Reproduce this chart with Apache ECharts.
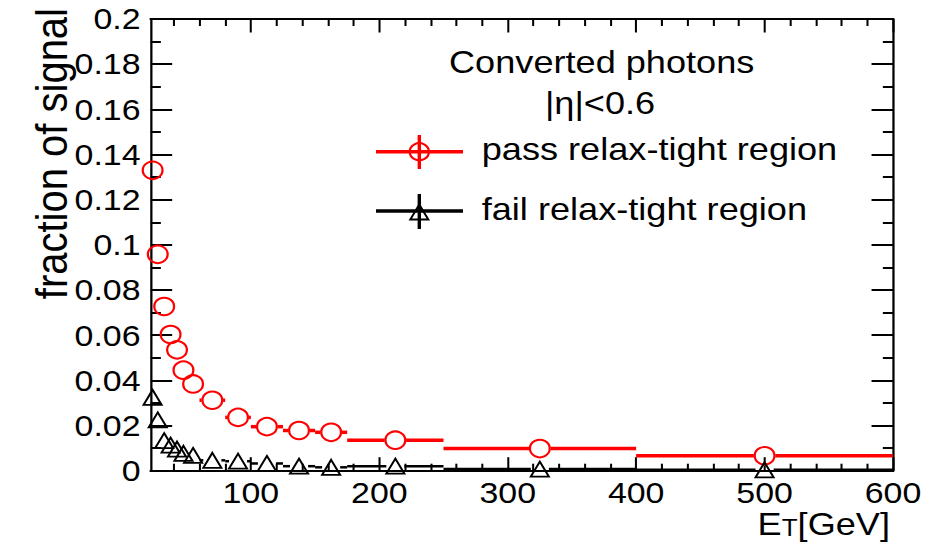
<!DOCTYPE html>
<html><head><meta charset="utf-8">
<script src="https://cdn.jsdelivr.net/npm/echarts@6/dist/echarts.min.js"></script>
<style>
html,body{margin:0;padding:0;background:#fff;overflow:hidden}
#wrap{width:933px;height:544px;overflow:hidden;background:#fff}
#c{width:826px;height:544px;transform:scaleX(1.12954);transform-origin:0 0}
</style>
</head><body><div id="wrap"><div id="c"></div></div>
<script>
// ---- data ----
const binLow   = [22, 25, 30, 35, 40, 45, 50, 60, 80, 100, 125, 150, 175, 250, 400];
const binHigh  = [25, 30, 35, 40, 45, 50, 60, 80, 100, 125, 150, 175, 250, 400, 600];
const etCenter = [23.5, 27.5, 32.5, 37.5, 42.5, 47.5, 55, 70, 90, 112.5, 137.5, 162.5, 212.5, 325, 500];
const passFrac = [0.133, 0.0958, 0.0727, 0.0603, 0.0535, 0.0445, 0.0384, 0.0312, 0.0236, 0.0195, 0.0178, 0.0170, 0.0135, 0.0098, 0.0066];
const failFrac = [0.0325, 0.0225, 0.0133, 0.0113, 0.0096, 0.0077, 0.0068, 0.0046, 0.0042, 0.0032, 0.0020, 0.0015, 0.0020, 0.0007, 0.0004];
const xMajorTicks = [100, 200, 300, 400, 500, 600];
const xMinorTicks = [40, 60, 80, 120, 140, 160, 180, 220, 240, 260, 280, 320, 340, 360, 380, 420, 440, 460, 480, 520, 540, 560, 580];
const xMin = 22, xMax = 600;
const yMin = 0, yMax = 0.2, yStep = 0.02;
const legendTitle = ['Converted photons', '|η|<0.6'];
const legendNames = ['pass relax-tight region', 'fail relax-tight region'];

const SX = 933 / 826;
const FONT = "'Liberation Sans', Arial, Helvetica, sans-serif";
const RED = '#ff0000', BLACK = '#000000';

function xAxisDef(pos, values, len, withLabels) {
  return {
    type: 'value', min: xMin, max: xMax, position: pos,
    axisLine: { show: true, onZero: false, lineStyle: { color: BLACK, width: 2 } },
    axisTick: { show: true, inside: true, length: len, customValues: values, lineStyle: { color: BLACK, width: 1.8 } },
    axisLabel: withLabels ? { show: true, customValues: values, fontSize: 30, lineHeight: 28, color: BLACK, fontFamily: FONT, margin: 8 } : { show: false },
    splitLine: { show: false }
  };
}
function yAxisDef(pos, withLabels) {
  return {
    type: 'value', min: yMin, max: yMax, interval: yStep, position: pos,
    axisLine: { show: true, onZero: false, lineStyle: { color: BLACK, width: 2 } },
    axisTick: { show: true, inside: true, length: 19, lineStyle: { color: BLACK, width: 2 } },
    minorTick: { show: true, splitNumber: 2, length: 9, lineStyle: { color: BLACK, width: 2 } },
    axisLabel: withLabels ? { show: true, fontSize: 30, color: BLACK, fontFamily: FONT, margin: 9 } : { show: false },
    splitLine: { show: false }, minorSplitLine: { show: false }
  };
}

function barRenderer(color, width, gap) {
  return function (params, api) {
    const y = api.value(2);
    const lo = api.coord([api.value(0), y]);
    const hi = api.coord([api.value(1), y]);
    const c = api.coord([api.value(3), y]);
    const children = [];
    const st = { stroke: color, lineWidth: width };
    if (c[0] - gap > lo[0]) children.push({ type: 'line', shape: { x1: lo[0], y1: lo[1], x2: c[0] - gap, y2: c[1] }, style: st });
    if (hi[0] > c[0] + gap) children.push({ type: 'line', shape: { x1: c[0] + gap, y1: c[1], x2: hi[0], y2: hi[1] }, style: st });
    return { type: 'group', children };
  };
}

const passBars = etCenter.map((c, i) => [binLow[i], binHigh[i], passFrac[i], c]);
const failBars = etCenter.map((c, i) => [binLow[i], binHigh[i], failFrac[i], c]);
const passPts = etCenter.map((c, i) => [c, passFrac[i]]);
const failPts = etCenter.map((c, i) => [c, failFrac[i]]);

const lx1 = 376 / SX, lx2 = 463 / SX, lmx = 419.3 / SX, ltx = 481.7 / SX;
function tri(cx, cy, w, h) { return [[cx, cy - h / 2], [cx + w / 2, cy + h / 2], [cx - w / 2, cy + h / 2]]; }

const chart = echarts.init(document.getElementById('c'), null, { renderer: 'svg' });
chart.setOption({
  backgroundColor: '#fff',
  animation: false,
  grid: { left: 150.7 / SX, right: 826 - 893 / SX, top: 19, bottom: 544 - 470.7, containLabel: false, outerBoundsMode: 'none' },
  xAxis: [
    xAxisDef('bottom', xMajorTicks, 13.5, true),
    xAxisDef('bottom', xMinorTicks, 7, false),
    xAxisDef('top', xMajorTicks, 13.5, false),
    xAxisDef('top', xMinorTicks, 7, false)
  ],
  yAxis: [yAxisDef('left', true), yAxisDef('right', false)],
  series: [
    { type: 'custom', xAxisIndex: 0, yAxisIndex: 0, renderItem: barRenderer(RED, 3.5, 9.5), data: passBars, encode: { x: [0, 1, 3], y: 2 }, z: 2 },
    { type: 'scatter', xAxisIndex: 0, yAxisIndex: 0, data: passPts, symbol: 'circle', symbolSize: 17.5,
      itemStyle: { color: 'rgba(0,0,0,0)', borderColor: RED, borderWidth: 2, opacity: 1 }, z: 3 },
    { type: 'custom', xAxisIndex: 0, yAxisIndex: 0, renderItem: barRenderer(BLACK, 2.5, 8), data: failBars, encode: { x: [0, 1, 3], y: 2 }, z: 2 },
    { type: 'scatter', xAxisIndex: 0, yAxisIndex: 0, data: failPts, symbol: 'triangle', symbolSize: [16, 15],
      itemStyle: { color: 'rgba(0,0,0,0)', borderColor: BLACK, borderWidth: 1.8, opacity: 1 }, z: 3 }
  ],
  graphic: [
    { type: 'text', x: 45, y: 8, rotation: Math.PI / 2,
      style: { text: 'fraction of signal', fontSize: 40, fontFamily: FONT, fill: BLACK, align: 'right', verticalAlign: 'middle' } },
    { type: 'text', x: 890 / SX, y: 527,
      style: { text: '{a|E}{b|T}{a|[GeV]}', fontFamily: FONT, fill: BLACK, align: 'right', verticalAlign: 'middle',
        rich: { a: { fontSize: 32, fontFamily: FONT, fill: BLACK, lineHeight: 26, verticalAlign: 'bottom' },
                b: { fontSize: 23, fontFamily: FONT, fill: BLACK, lineHeight: 13, verticalAlign: 'bottom' } } } },
    { type: 'text', x: 601.7 / SX, y: 61.7,
      style: { text: legendTitle[0], fontSize: 32, fontFamily: FONT, fill: BLACK, align: 'center', verticalAlign: 'middle' } },
    { type: 'text', x: 600 / SX, y: 103,
      style: { text: legendTitle[1], fontSize: 32, fontFamily: FONT, fill: BLACK, align: 'center', verticalAlign: 'middle' } },
    // legend entry 1
    { type: 'line', shape: { x1: lx1, y1: 151.7, x2: lx2, y2: 151.7 }, style: { stroke: RED, lineWidth: 3.5 } },
    { type: 'line', shape: { x1: lmx, y1: 135, x2: lmx, y2: 169 }, style: { stroke: RED, lineWidth: 3 } },
    { type: 'circle', shape: { cx: lmx, cy: 151.7, r: 8.5 }, style: { stroke: RED, lineWidth: 2, fill: 'none' } },
    { type: 'text', x: ltx, y: 148.5,
      style: { text: legendNames[0], fontSize: 32, fontFamily: FONT, fill: BLACK, align: 'left', verticalAlign: 'middle' } },
    // legend entry 2
    { type: 'line', shape: { x1: lx1, y1: 211, x2: lx2, y2: 211 }, style: { stroke: BLACK, lineWidth: 3.5 } },
    { type: 'line', shape: { x1: lmx, y1: 194, x2: lmx, y2: 229 }, style: { stroke: BLACK, lineWidth: 3 } },
    { type: 'polygon', shape: { points: tri(lmx, 212, 16, 15) }, style: { stroke: BLACK, lineWidth: 1.8, fill: 'none' } },
    { type: 'text', x: ltx, y: 208.5,
      style: { text: legendNames[1], fontSize: 32, fontFamily: FONT, fill: BLACK, align: 'left', verticalAlign: 'middle' } }
  ]
});
</script>
</body></html>
